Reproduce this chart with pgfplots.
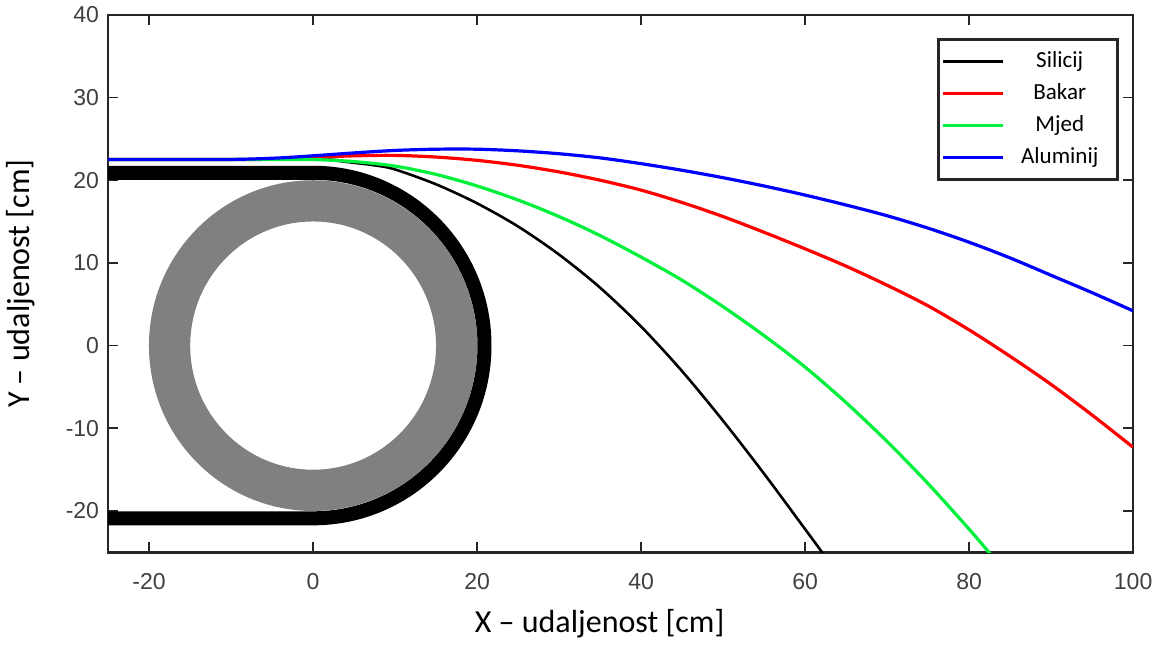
\documentclass[border=0pt]{standalone}
\usepackage{fontspec}
\setmainfont{Carlito}
\newfontfamily\arialfont{Liberation Sans}
\usepackage{pgfplots}
\pgfplotsset{compat=1.18}

\definecolor{mgreen}{RGB}{0,240,60}
\definecolor{ringgray}{RGB}{128,128,128}
\definecolor{axgray}{RGB}{38,38,38}
\definecolor{tickgray}{RGB}{64,64,64}

\begin{document}
\begin{tikzpicture}
\begin{axis}[
    scale only axis,
    width=512pt, height=268.5pt,
    xmin=-25, xmax=100, ymin=-25, ymax=40,
    xtick={-20,0,20,40,60,80,100},
    ytick={-20,-10,0,10,20,30,40},
    tick pos=both, tick align=inside,
    major tick length=5pt,
    tick style={axgray, line width=0.9pt},
    axis line style={axgray, line width=1.2pt},
    /pgf/number format/assume math mode=true,
    ticklabel style={font=\arialfont\fontsize{11.5}{13}\selectfont, text=tickgray},
    xticklabel style={yshift=-7pt},
    yticklabel style={xshift=-1pt},
    xlabel={X – udaljenost [cm]},
    ylabel={Y – udaljenost [cm]},
    label style={font=\fontsize{16}{19}\selectfont},
    xlabel style={at={(axis description cs:0.4795,0)}, anchor=base, yshift=-40pt},
    ylabel style={at={(axis description cs:-0.085,0.5)}, anchor=center},
    legend style={at={(rel axis cs:0.9863,0.957)}, anchor=north east,
        draw=axgray, line width=1.3pt, fill=white,
        font=\fontsize{11.5}{13}\selectfont,
        inner xsep=1.5pt, inner ysep=3pt,
        nodes={text width=50pt, align=center, text height=8.5pt, text depth=2.5pt, inner sep=2.5pt}},
    legend image code/.code={\draw[#1, line width=1.5pt] (0pt,0pt) -- (30pt,0pt);},
]
% ring and track
\draw[ringgray, line width=20.6pt] (axis cs:0,0) ellipse[x radius=71.7pt, y radius=72.3pt];
\draw[black, line width=7pt] (axis cs:-30,20.9) -- (axis cs:0,20.9)
    arc[start angle=90, end angle=-90, x radius=85.6pt, y radius=86.3pt]
    -- (axis cs:-30,-20.9);

\addplot[black, line width=1.3pt, smooth] coordinates {
(-25,22.5) (0,22.5) (2.5,22.4) (5,22.1) (7.5,21.8) (10,21.3) (15,19.5) (20,17.2)
(25,14.4) (30,11.0) (35,7.0) (40,2.3) (45,-3.1) (50,-9.1) (55,-15.5) (60,-22.2)
(62,-24.9) (63,-26.3)
};
\addlegendentry{Silicij}
\addplot[red, line width=1.6pt, smooth] coordinates {
(-25,22.5) (-8,22.5) (-4,22.6) (0,22.75) (5,22.95) (10,23.0) (15,22.8) (20,22.4)
(25,21.8) (30,21.0) (35,20.0) (40,18.8) (45,17.3) (50,15.6) (55,13.7) (60,11.7)
(65,9.6) (70,7.3) (75,4.8) (80,1.9) (85,-1.3) (90,-4.7) (95,-8.4) (100,-12.3)
};
\addlegendentry{Bakar}
\addplot[mgreen, line width=1.6pt, smooth] coordinates {
(-25,22.5) (-4,22.5) (0,22.5) (5,22.25) (10,21.7) (15,20.7) (20,19.3) (25,17.6)
(30,15.6) (35,13.3) (40,10.7) (45,7.9) (50,4.7) (55,1.2) (60,-2.6) (65,-6.9)
(70,-11.6) (75,-16.7) (80,-22.2) (82.5,-25.1) (83,-25.7)
};
\addlegendentry{Mjed}
\addplot[blue, line width=1.6pt, smooth] coordinates {
(-25,22.5) (-12,22.5) (-8,22.55) (-4,22.7) (0,22.95) (5,23.3) (10,23.6) (15,23.75)
(20,23.75) (25,23.55) (30,23.2) (35,22.7) (40,22.0) (45,21.2) (50,20.3) (55,19.3)
(60,18.2) (65,17.0) (70,15.7) (75,14.2) (80,12.5) (85,10.6) (90,8.5) (95,6.4) (100,4.2)
};
\addlegendentry{Aluminij}
\end{axis}
\end{tikzpicture}
\end{document}
